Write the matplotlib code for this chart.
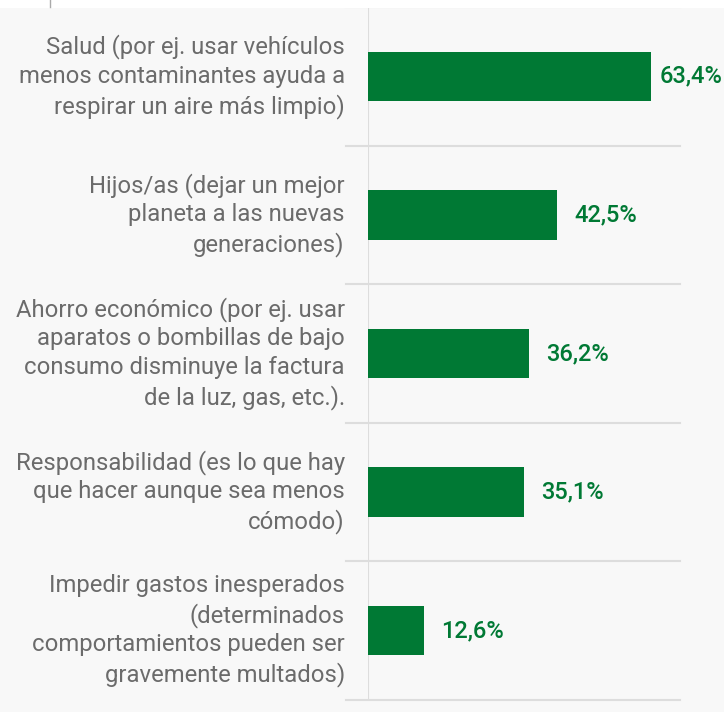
import matplotlib
matplotlib.use('Agg')
import matplotlib.pyplot as plt
from matplotlib.patches import Rectangle
from matplotlib.lines import Line2D

plt.rcParams['font.family'] = ['Roboto', 'DejaVu Sans']

categorias = [
    'Salud (por ej. usar vehículos\nmenos contaminantes ayuda a\nrespirar un aire más limpio)',
    'Hijos/as (dejar un mejor\nplaneta a las nuevas\ngeneraciones)',
    'Ahorro económico (por ej. usar\naparatos o bombillas de bajo\nconsumo disminuye la factura\nde la luz, gas, etc.).',
    'Responsabilidad (es lo que hay\nque hacer aunque sea menos\ncómodo)',
    'Impedir gastos inesperados\n(determinados\ncomportamientos pueden ser\ngravemente multados)',
]
valores = [63.4, 42.5, 36.2, 35.1, 12.6]
etiquetas = ['63,4%', '42,5%', '36,2%', '35,1%', '12,6%']

verde = '#007934'
gris_texto = '#6b6b6b'
gris_linea = '#dddddd'
fondo = '#f8f8f8'

fig = plt.figure(figsize=(7.24, 7.12), dpi=100, facecolor=fondo)
# franja blanca superior
fig.patches.append(Rectangle((0, 1 - 8 / 712), 1, 8 / 712, transform=fig.transFigure,
                             facecolor='white', edgecolor='none', zorder=0))
fig.lines.append(Line2D([50 / 724, 50 / 724], [1, 1 - 7 / 712], transform=fig.transFigure,
                        color='#aaaaaa', lw=1))

ax = fig.add_axes([368 / 724, 12 / 712, 312 / 724, 693 / 712])
ax.set_facecolor(fondo)

n = len(valores)
ys = list(range(n))
ax.barh(ys, valores, height=0.355, color=verde, zorder=3)
ax.set_ylim(n - 0.5, -0.5)
ax.set_xlim(0, 70)

# separadores horizontales entre categorias
for k in range(n + 1):
    ax.plot([-5, 70], [k - 0.5, k - 0.5], color=gris_linea, lw=1.5, clip_on=False, zorder=1)
ax.axvline(0, color=gris_linea, lw=1.5, zorder=2)

for y, v, t in zip(ys, valores, etiquetas):
    x = min(v + 3.8, 65.4)
    ax.text(x, y, t, color=verde, fontsize=17, fontweight='medium', va='center', ha='left',
            clip_on=False)

for y, c in zip(ys, categorias):
    ax.text(-5.2, y, c, color=gris_texto, fontsize=17.2, ha='right', va='center',
            linespacing=1.31)

ax.set_xticks([])
ax.set_yticks([])
for s in ax.spines.values():
    s.set_visible(False)

fig.savefig('out.png', dpi=100, facecolor=fondo)
